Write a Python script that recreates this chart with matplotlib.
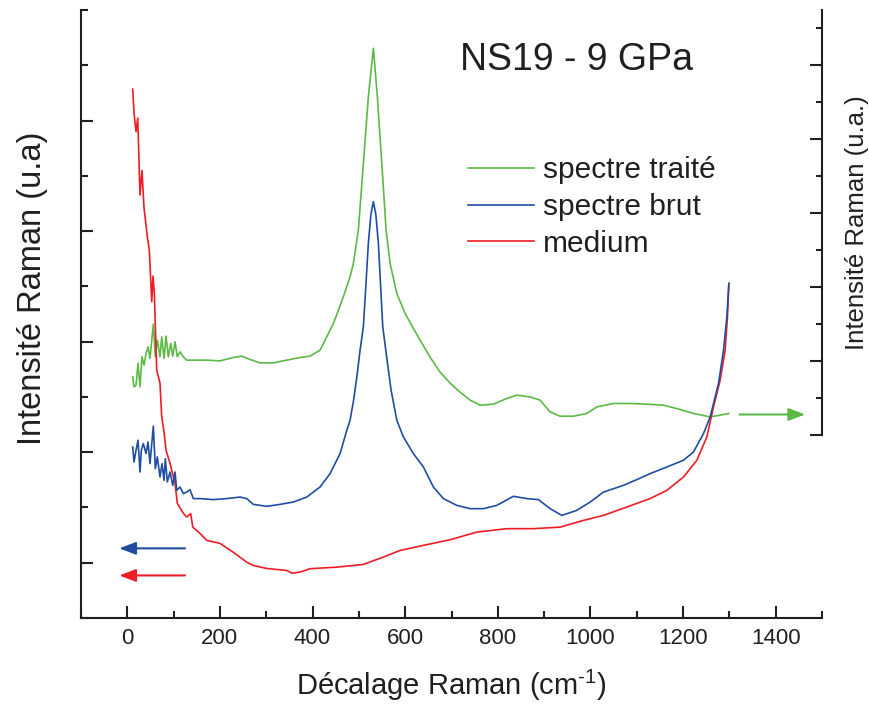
import numpy as np
import matplotlib
matplotlib.use("Agg")
import matplotlib.pyplot as plt
from matplotlib.ticker import MultipleLocator, NullFormatter

plt.rcParams['font.family'] = ['Liberation Sans', 'DejaVu Sans']
plt.rcParams['mathtext.fontset'] = 'custom'
plt.rcParams['mathtext.rm'] = 'Liberation Sans'
plt.rcParams['mathtext.default'] = 'regular'

INK = '#231f20'
GREEN = '#5cb946'
BLUE = '#1f4ea1'
RED = '#ee1c25'

# medium (left axis)
red_x = [11.7, 14.5, 18.8, 22.5, 27.4, 31.7, 36.1, 43.2, 47.5, 52.7, 55.5, 58.3, 63.5,
         70.6, 74.3, 79.3, 83.6, 92.2, 103.0, 108.0, 121.0, 128.3, 136.9, 141.3, 157.0,
         171.5, 200.2, 228.3, 257.9, 271.5, 301.1, 344.3, 355.1, 373.0, 394.6, 452.3,
         509.7, 552.9, 589.0, 639.3, 697.0, 754.6, 819.4, 876.9, 934.6, 984.9, 1028.1,
         1078.6, 1128.9, 1165.0, 1200.9, 1229.8, 1251.4, 1265.7, 1280.1, 1290.9, 1295.9,
         1298.9]
red_y = [4.284, 4.070, 3.900, 4.022, 3.327, 3.547, 3.209, 2.949, 2.829, 2.361, 2.593,
         2.439, 1.742, 1.624, 1.319, 1.183, 1.017, 0.899, 0.718, 0.537, 0.447, 0.413,
         0.444, 0.322, 0.265, 0.202, 0.175, 0.096, 0.005, -0.024, -0.052, -0.070, -0.094,
         -0.085, -0.054, -0.040, -0.015, 0.051, 0.111, 0.157, 0.208, 0.277, 0.308, 0.308,
         0.322, 0.383, 0.428, 0.504, 0.580, 0.655, 0.775, 0.927, 1.138, 1.409, 1.651,
         1.923, 2.225, 2.527]

# spectre brut (left axis)
blue_x = [11.7, 14.5, 18.8, 23.1, 27.4, 30.2, 34.6, 40.4, 44.7, 49.0, 56.2, 60.5, 64.8,
          70.6, 74.9, 79.3, 82.1, 86.4, 92.2, 98.1, 103.0, 106.7, 113.8, 121.0, 128.3,
          135.4, 142.5, 157.0, 185.7, 214.7, 243.4, 257.9, 272.1, 301.1, 329.8, 358.5,
          387.5, 416.2, 437.8, 459.4, 473.9, 481.0, 488.6, 496.1, 502.6, 509.7, 515.0,
          520.5, 526.0, 531.3, 536.6, 542.1, 547.0, 551.6, 560.9, 569.6, 581.9, 596.1,
          617.7, 639.3, 660.9, 682.5, 711.4, 740.2, 768.9, 797.8, 833.7, 862.6, 887.7,
          913.0, 938.2, 970.6, 999.4, 1028.1, 1071.3, 1100.2, 1128.9, 1165.0, 1200.9,
          1222.5, 1244.1, 1258.5, 1276.5, 1287.3, 1294.6, 1298.9]
blue_y = [1.047, 0.911, 1.017, 1.108, 0.821, 1.017, 1.078, 0.987, 1.092, 0.897, 1.235,
          0.851, 0.957, 0.775, 0.897, 0.745, 0.942, 0.730, 0.821, 0.700, 0.821, 0.655,
          0.685, 0.625, 0.639, 0.661, 0.580, 0.580, 0.571, 0.580, 0.594, 0.580, 0.528,
          0.510, 0.528, 0.549, 0.594, 0.685, 0.806, 0.987, 1.198, 1.289, 1.470, 1.697,
          1.923, 2.134, 2.500, 2.892, 3.150, 3.266, 3.150, 2.892, 2.500, 2.134, 1.833,
          1.561, 1.289, 1.138, 0.987, 0.866, 0.685, 0.580, 0.519, 0.489, 0.489, 0.519,
          0.601, 0.580, 0.571, 0.489, 0.428, 0.474, 0.549, 0.639, 0.700, 0.752, 0.806,
          0.866, 0.927, 1.002, 1.168, 1.319, 1.621, 1.923, 2.225, 2.527]

# spectre traité (right axis)
green_x = [11.7, 14.5, 18.8, 23.1, 27.4, 31.7, 36.1, 40.4, 44.7, 49.0, 56.2, 60.5, 64.8,
           70.6, 74.3, 79.3, 83.6, 88.6, 93.7, 98.1, 103.0, 108.0, 113.8, 121.0, 128.3,
           142.5, 171.5, 200.2, 228.9, 247.1, 265.0, 286.6, 315.3, 344.3, 373.0, 394.6,
           416.2, 445.0, 466.5, 481.0, 488.1, 498.9, 509.7, 520.5, 531.3, 539.9, 549.5,
           558.8, 567.4, 581.9, 599.8, 617.7, 632.2, 653.8, 675.4, 697.0, 718.6, 740.2,
           761.8, 790.5, 819.4, 841.0, 869.7, 891.3, 912.9, 934.6, 963.3, 992.2, 1013.8,
           1049.7, 1085.7, 1121.8, 1157.7, 1193.7, 1222.5, 1258.5, 1280.1, 1298.9]
green_y = [0.789, 0.654, 0.677, 0.970, 0.654, 1.060, 0.947, 1.106, 1.195, 1.038, 1.502,
           1.060, 1.286, 1.060, 1.330, 1.038, 1.340, 1.060, 1.241, 1.069, 1.263, 1.060,
           1.127, 1.060, 1.015, 1.015, 1.015, 1.005, 1.051, 1.069, 1.024, 0.978, 0.978,
           1.015, 1.051, 1.069, 1.150, 1.511, 1.871, 2.142, 2.323, 2.774, 3.677, 4.578,
           5.233, 4.578, 3.677, 2.774, 2.323, 1.917, 1.647, 1.444, 1.286, 1.055, 0.853,
           0.704, 0.582, 0.474, 0.406, 0.419, 0.497, 0.541, 0.518, 0.474, 0.315, 0.257,
           0.257, 0.294, 0.383, 0.429, 0.429, 0.419, 0.406, 0.348, 0.294, 0.248, 0.271,
           0.294]

labels = ['spectre traité', 'spectre brut', 'medium']

fig = plt.figure(figsize=(8.69, 7.08), dpi=100)
ax = fig.add_axes([81 / 869, 1 - 618 / 708, 741 / 869, 608 / 708])
ax2 = ax.twinx()
ax.set_zorder(2)
ax.patch.set_visible(False)
ax2.set_zorder(1)

# left axis
ax.set_xlim(-100, 1500)
ax.set_ylim(-0.5, 5.0)
red_line, = ax.plot(red_x, red_y, color=RED, lw=1.2)
blue_line, = ax.plot(blue_x, blue_y, color=BLUE, lw=1.2)
green_line, = ax2.plot(green_x, green_y, color=GREEN, lw=1.2)

ax.xaxis.set_major_locator(MultipleLocator(200))
ax.xaxis.set_minor_locator(MultipleLocator(100))
ax.set_yticks([0, 1, 2, 3, 4])
ax.yaxis.set_minor_locator(MultipleLocator(0.5))
ax.yaxis.set_major_formatter(NullFormatter())
for s in ['top', 'right']:
    ax.spines[s].set_visible(False)
for s in ['left', 'bottom']:
    ax.spines[s].set_linewidth(1.5)
    ax.spines[s].set_color(INK)
ax.tick_params(which='both', direction='in', width=1.5, color=INK, labelcolor=INK)
ax.tick_params(which='major', length=8.6, labelsize=16, pad=7)
ax.tick_params(which='minor', length=4.7)

# right axis (only spans the upper part)
ax2.set_ylim(-2.472, 5.75)
ax2.spines['right'].set_bounds(0, 5.75)
ax2.spines['right'].set_linewidth(1.5)
ax2.spines['right'].set_color(INK)
for s in ['top', 'left', 'bottom']:
    ax2.spines[s].set_visible(False)
ax2.set_yticks([0, 1, 2, 3, 4, 5])
ax2.set_yticks([0.5, 1.5, 2.5, 3.5, 4.5, 5.5], minor=True)
ax2.yaxis.set_major_formatter(NullFormatter())
ax2.tick_params(which='both', direction='in', width=1.5, color=INK)
ax2.tick_params(which='major', length=8.4)
ax2.tick_params(which='minor', length=4.2)

# arrows
arrow = '-|>,head_length=1.0,head_width=0.38'
ax.annotate('', xy=(-17.5, 0.13), xytext=(124.6, 0.13),
            arrowprops=dict(arrowstyle=arrow, color=BLUE, lw=1.5, shrinkA=0, shrinkB=0))
ax.annotate('', xy=(-17.5, -0.115), xytext=(124.6, -0.115),
            arrowprops=dict(arrowstyle=arrow, color=RED, lw=1.5, shrinkA=0, shrinkB=0))
ax2.annotate('', xy=(1463.7, 0.28), xytext=(1321.8, 0.28),
             arrowprops=dict(arrowstyle=arrow, color=GREEN, lw=1.5, shrinkA=0, shrinkB=0))

# labels
ax.set_xlabel(r'Décalage Raman (cm$^{\text{-}1}$)', fontsize=21, color=INK, labelpad=14)
ax.set_ylabel('Intensité Raman (u.a)', fontsize=23.5, color=INK)
ax.yaxis.set_label_coords(-0.045, 0.543)
fig.text(856.7 / 869, 1 - 223 / 708, 'Intensité Raman (u.a.)', rotation=90,
         ha='center', va='center', fontsize=18.5, color=INK)
ax.text(0.669, 0.901, 'NS19 - 9 GPa', transform=ax.transAxes, ha='center',
        va='baseline', fontsize=27, color=INK)

leg = ax.legend([green_line, blue_line, red_line], labels, loc='upper left',
                bbox_to_anchor=(468 / 869, 1 - 156 / 708), bbox_transform=fig.transFigure,
                frameon=False, fontsize=21.5, handlelength=2.2, handletextpad=0.3,
                labelspacing=0.3, borderpad=0, borderaxespad=0)
for t in leg.get_texts():
    t.set_color(INK)

fig.savefig('out.png', dpi=100)
